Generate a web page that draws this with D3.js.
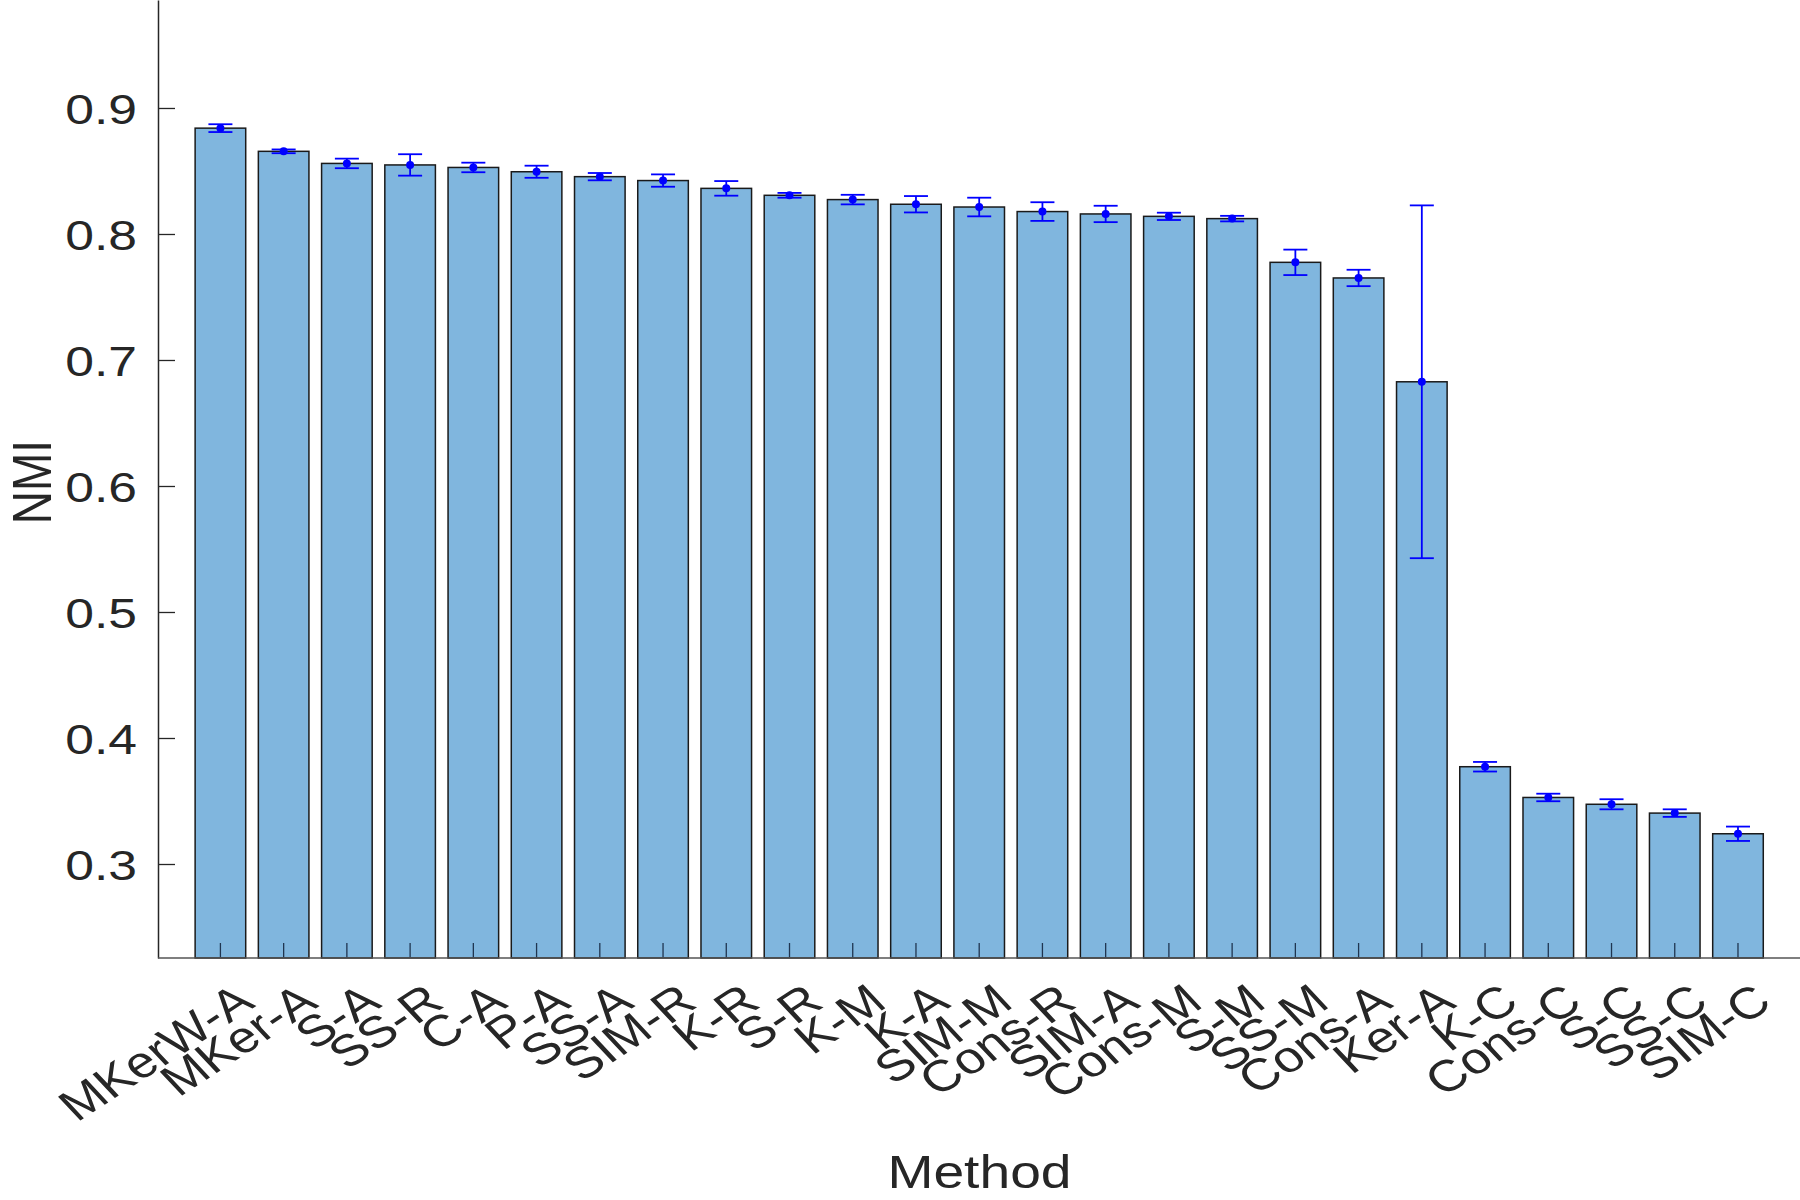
<!DOCTYPE html>
<html>
<head>
<meta charset="utf-8">
<script src="https://cdn.jsdelivr.net/npm/d3@7"></script>
<style>
  html, body { margin: 0; padding: 0; background: #fff; }
  svg text { font-family: "Liberation Sans", Arial, Helvetica, sans-serif; fill: #262626; }
</style>
</head>
<body>
<div id="viz"></div>
<script>
// methods, sorted by mean NMI
const methods = ["MKerW-A", "MKer-A", "S-A", "SS-R", "C-A", "P-A", "SS-A", "SIM-R", "K-R", "S-R",
  "K-M", "K-A", "SIM-M", "Cons-R", "SIM-A", "Cons-M", "S-M", "SS-M", "Cons-A", "Ker-A",
  "K-C", "Cons-C", "S-C", "SS-C", "SIM-C"];
const nmiMean = [0.884, 0.8656, 0.856, 0.8548, 0.8528, 0.8494, 0.8455, 0.8424, 0.8362, 0.8307,
  0.8273, 0.8236, 0.8214, 0.8178, 0.8159, 0.8140, 0.8122, 0.7775, 0.7651, 0.6827,
  0.3772, 0.3528, 0.3474, 0.3404, 0.3240];
const nmiStd = [0.0031, 0.0015, 0.0038, 0.0085, 0.0038, 0.0048, 0.0029, 0.0049, 0.0058, 0.0019,
  0.0038, 0.0065, 0.0074, 0.0074, 0.0065, 0.0029, 0.0022, 0.0101, 0.0065, 0.140,
  0.0038, 0.0030, 0.0040, 0.0030, 0.0057];
const yTicks = [0.3, 0.4, 0.5, 0.6, 0.7, 0.8, 0.9];

const width = 1800, height = 1200;
const axisX = 158, baseY = 958;
const sx = 1.2; // text looks stretched sideways in the original

const svg = d3.select("#viz").append("svg")
  .attr("width", width).attr("height", height);

const x = d3.scaleBand()
  .domain(methods)
  .range([188.8, 1769.6])
  .paddingInner(0.2)
  .paddingOuter(0.1);

const y = d3.scaleLinear()
  .domain([0.2254, 0.9857])
  .range([baseY, 0]);

// bars
svg.append("g").selectAll("rect")
  .data(methods)
  .join("rect")
  .attr("x", d => x(d))
  .attr("width", x.bandwidth())
  .attr("y", (d, i) => y(nmiMean[i]))
  .attr("height", (d, i) => baseY - y(nmiMean[i]))
  .attr("fill", "#80b6de")
  .attr("stroke", "#1a1a1a")
  .attr("stroke-width", 1.5);

// error bars
const eb = svg.append("g").attr("stroke", "#0000ff").attr("stroke-width", 1.8);
methods.forEach((m, i) => {
  const cx = x(m) + x.bandwidth() / 2;
  const lo = y(nmiMean[i] - nmiStd[i]), hi = y(nmiMean[i] + nmiStd[i]);
  eb.append("line").attr("x1", cx).attr("x2", cx).attr("y1", lo).attr("y2", hi);
  eb.append("line").attr("x1", cx - 12).attr("x2", cx + 12).attr("y1", lo).attr("y2", lo);
  eb.append("line").attr("x1", cx - 12).attr("x2", cx + 12).attr("y1", hi).attr("y2", hi);
  svg.append("circle").attr("cx", cx).attr("cy", y(nmiMean[i])).attr("r", 4).attr("fill", "#0000ff");
});

// y axis
const yAxis = svg.append("g")
  .attr("transform", `translate(${axisX},0)`)
  .call(d3.axisLeft(y).tickValues(yTicks).tickSize(-17).tickSizeOuter(0).tickFormat(d3.format(".1f")));
yAxis.select(".domain").attr("stroke", "#262626").attr("stroke-width", 1.5);
yAxis.selectAll(".tick line").attr("stroke", "#262626").attr("stroke-width", 1.3);
yAxis.selectAll(".tick text")
  .attr("x", null).attr("dy", "0.36em")
  .attr("transform", `translate(-21,0) scale(${sx},1)`)
  .attr("font-size", 43)
  .attr("fill", "#262626");

// x axis
const xAxis = svg.append("g")
  .attr("transform", `translate(0,${baseY})`)
  .call(d3.axisBottom(x).tickSize(-15).tickSizeOuter(0));
xAxis.select(".domain").remove();
xAxis.selectAll(".tick line").attr("stroke", "#1f3550").attr("stroke-width", 1.3);
xAxis.selectAll(".tick text")
  .attr("y", null).attr("dy", null)
  .attr("text-anchor", "end")
  .attr("font-size", 44)
  .attr("transform", `translate(36,48) scale(${sx},1) rotate(-38)`);

svg.append("line")
  .attr("x1", axisX).attr("x2", width)
  .attr("y1", baseY).attr("y2", baseY)
  .attr("stroke", "#555").attr("stroke-width", 1.5);

// axis titles
svg.append("text")
  .attr("transform", `translate(51,482) scale(${sx},1) rotate(-90)`)
  .attr("text-anchor", "middle")
  .attr("font-size", 46)
  .text("NMI");

svg.append("text")
  .attr("transform", `translate(979.5,1188) scale(${sx},1)`)
  .attr("text-anchor", "middle")
  .attr("font-size", 46)
  .text("Method");
</script>
</body>
</html>
